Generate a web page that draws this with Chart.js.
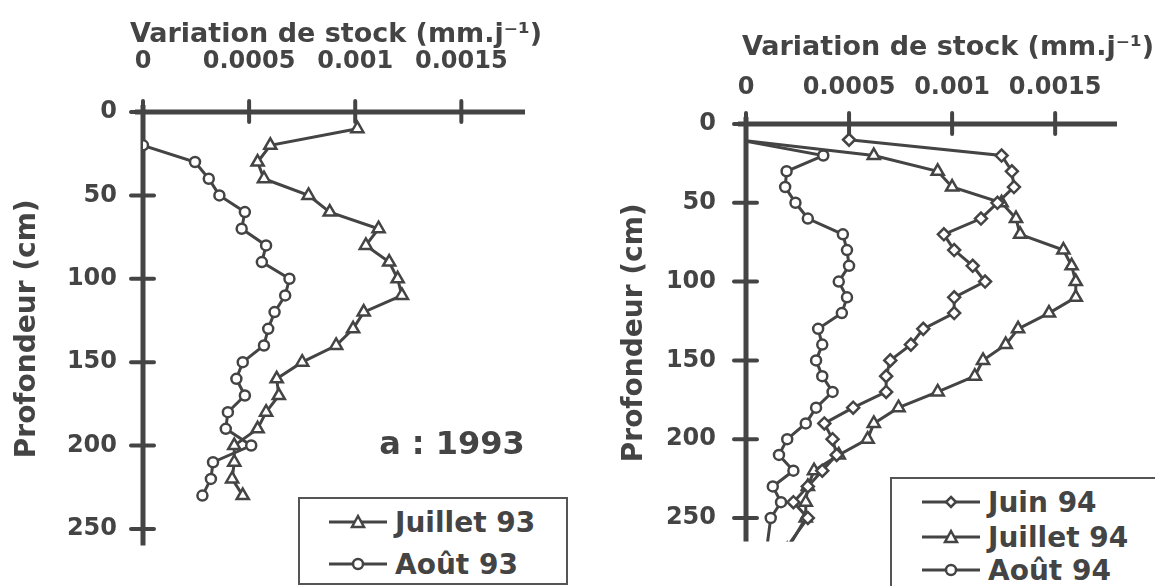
<!DOCTYPE html>
<html>
<head>
<meta charset="utf-8">
<script src="https://cdn.jsdelivr.net/npm/chart.js@4.4.1/dist/chart.umd.min.js"></script>
<style>
  html, body { margin: 0; padding: 0; background: #fff; }
  body { width: 1155px; height: 586px; position: relative; overflow: hidden; font-family: "DejaVu Sans", sans-serif; color: #444; }
  canvas { position: absolute; top: 0; }
  #leftCanvas { left: 0; }
  #rightCanvas { left: 580px; }
  .x-title { position: absolute; font-weight: bold; font-size: 27px; transform: translate(-50%, -50%); white-space: nowrap; }
  .legend-box { position: absolute; border: 2px solid #555; background: #fff; }
  .legend-row { position: absolute; height: 34px; display: flex; align-items: center; font-weight: bold; font-size: 28px; white-space: nowrap; }
  .legend-row svg { margin-right: 8px; }
  .year-tag { position: absolute; font-weight: bold; font-size: 32px; transform: translate(-50%, -50%); white-space: nowrap; }
</style>
</head>
<body>
<canvas id="leftCanvas" width="580" height="586"></canvas>
<canvas id="rightCanvas" width="575" height="586"></canvas>
<div class="x-title" id="xTitleLeft" style="left:336px; top:32px;"></div>
<div class="x-title" id="xTitleRight" style="left:948px; top:45px;"></div>
<div class="year-tag" style="left:452px; top:443px;">a : 1993</div>
<div class="legend-box" style="left:298px; top:497px; width:266px; height:84px;"></div>
<div class="legend-box" style="left:890px; top:477px; width:300px; height:140px;"></div>
<div id="legends"></div>
<script>
const INK = "#444";

// Axis text
const xTitle = "Variation de stock (mm.j\u207B\u00B9)";
const yTitle = "Profondeur (cm)";
const xTickValues = [0, 0.0005, 0.001, 0.0015];
const xTickLabels = ["0", "0.0005", "0.001", "0.0015"];
const yTickValues = [0, 50, 100, 150, 200, 250];

// 1993 panel
const depthsJuillet93 = [10, 20, 30, 40, 50, 60, 70, 80, 90, 100, 110, 120, 130, 140, 150, 160, 170, 180, 190, 200, 210, 220, 230];
const juillet93 = [0.00101, 0.0006, 0.00054, 0.00057, 0.00078, 0.00088, 0.00111, 0.00105, 0.00116, 0.0012, 0.00122, 0.00104,
  0.00099, 0.00091, 0.00075, 0.00063, 0.00064, 0.00058, 0.00054, 0.00043, 0.00043, 0.00042, 0.00047];
const depthsAout93 = [20, 30, 40, 50, 60, 70, 80, 90, 100, 110, 120, 130, 140, 150, 160, 170, 180, 190, 200, 210, 220, 230];
const aout93 = [0, 0.000245, 0.00031, 0.00036, 0.00048, 0.000465, 0.00058, 0.00056, 0.00069, 0.00067, 0.00062, 0.00059,
  0.00057, 0.00047, 0.00044, 0.00048, 0.0004, 0.00039, 0.00051, 0.00033, 0.00032, 0.00028];

// 1994 panel (last depth runs past the axis end, the line is cut there)
const depths94 = [10, 20, 30, 40, 50, 60, 70, 80, 90, 100, 110, 120, 130, 140, 150, 160, 170, 180, 190, 200, 210, 220, 230, 240, 250, 270];
const juin94 = [0.0005, 0.00124, 0.00129, 0.0013, 0.00122, 0.00114, 0.00096, 0.00101, 0.0011, 0.00116, 0.00101, 0.00101, 0.00086,
  0.0008, 0.0007, 0.00068, 0.00068, 0.00052, 0.00038, 0.00042, 0.00044, 0.00037, 0.0003, 0.00023, 0.0003, 0.00019];
const juillet94 = [-0.00004, 0.00062, 0.00093, 0.001, 0.00124, 0.00131, 0.00133, 0.00154, 0.00158, 0.0016, 0.0016, 0.00147, 0.00132,
  0.00126, 0.00115, 0.00111, 0.00093, 0.00074, 0.00062, 0.00059, 0.00045, 0.00033, 0.0003, 0.00029, 0.00029, 0.0002];
const aout94 = [-0.00004, 0.000375, 0.000197, 0.00019, 0.00024, 0.0003, 0.00047, 0.00049, 0.0005, 0.00045, 0.00049, 0.000465, 0.00035,
  0.00037, 0.00034, 0.00037, 0.00042, 0.00034, 0.00029, 0.0002, 0.00016, 0.00023, 0.00013, 0.00017, 0.00012, 0.0001];

const MARKER_RADIUS = { triangle: 7, circle: 5, rectRot: 6 };

Chart.defaults.font.family = '"DejaVu Sans", sans-serif';
Chart.defaults.color = INK;

function series(label, depths, values, style, extra) {
  return Object.assign({
    label,
    data: depths.map((d, i) => ({ x: values[i], y: d })),
    showLine: true,
    borderColor: INK,
    borderWidth: 3,
    pointStyle: style,
    pointRadius: MARKER_RADIUS[style],
    pointBorderWidth: 2.5,
    pointBorderColor: INK,
    pointBackgroundColor: "#fff",
  }, extra || {});
}

// axes drawn as crossing ticks, like the scanned figure
const crossAxes = {
  id: "crossAxes",
  beforeDatasetsDraw(chart) {
    const { ctx, chartArea: a, scales: { x, y } } = chart;
    ctx.save();
    ctx.strokeStyle = INK;
    ctx.lineWidth = 5;
    ctx.beginPath();
    ctx.moveTo(a.left - 8, a.top); ctx.lineTo(a.right, a.top);
    ctx.moveTo(a.left, a.top - 7); ctx.lineTo(a.left, a.bottom);
    ctx.stroke();
    ctx.lineWidth = 4;
    ctx.lineCap = "round";
    ctx.beginPath();
    x.ticks.forEach(t => { const px = x.getPixelForValue(t.value); ctx.moveTo(px, a.top - 11); ctx.lineTo(px, a.top + 10); });
    y.ticks.forEach(t => { const py = y.getPixelForValue(t.value); ctx.moveTo(a.left - 12, py); ctx.lineTo(a.left + 11, py); });
    ctx.stroke();
    ctx.restore();
  },
};

function makeChart(canvasId, datasets, o) {
  return new Chart(document.getElementById(canvasId), {
    type: "scatter",
    data: { datasets },
    plugins: [crossAxes],
    options: {
      responsive: false,
      animation: false,
      layout: { padding: o.padding },
      plugins: { legend: { display: false }, tooltip: { enabled: false } },
      scales: {
        x: {
          type: "linear", position: "top", min: 0, max: 0.0018,
          afterFit: s => { s.height = o.xHeight; },
          afterBuildTicks: s => { s.ticks = xTickValues.map(v => ({ value: v })); },
          ticks: { padding: o.xTickPad, color: INK, font: { size: 24, weight: "bold" }, maxRotation: 0,
            callback: (v, i) => xTickLabels[i] },
          grid: { display: false, drawTicks: false },
          border: { display: false },
          title: { display: false },
        },
        y: {
          type: "linear", position: "left", reverse: true, min: 0, max: o.yMax,
          afterFit: s => { s.width = o.yWidth; },
          afterBuildTicks: s => { s.ticks = yTickValues.map(v => ({ value: v })); },
          ticks: { padding: o.yTickPad, color: INK, font: { size: 24, weight: "bold" } },
          grid: { display: false, drawTicks: false },
          border: { display: false },
          title: { display: true, text: yTitle, color: INK, font: { size: 28, weight: "bold" }, padding: { top: o.yTitlePad, bottom: 0 } },
        },
      },
    },
  });
}

const leftSets = [
  series("Juillet 93", depthsJuillet93, juillet93, "triangle"),
  series("Août 93", depthsAout93, aout93, "circle"),
];
const rightSets = [
  series("Juin 94", depths94, juin94, "rectRot", { clip: 0 }),
  series("Juillet 94", depths94, juillet94, "triangle", { clip: 0 }),
  series("Août 94", depths94, aout94, "circle", { clip: 0 }),
];

makeChart("leftCanvas", leftSets, {
  padding: { left: 0, top: 0, right: 55, bottom: 29 },
  xHeight: 112, yWidth: 143, yMax: 260,
  xTickPad: 36, yTickPad: 26, yTitlePad: 11,
});
makeChart("rightCanvas", rightSets, {
  padding: { left: 34, top: 0, right: 38, bottom: 20 },
  xHeight: 124, yWidth: 132, yMax: 265,
  xTickPad: 22, yTickPad: 30, yTitlePad: 4,
});

// the x titles run wider than the axis, so they sit above the canvases as plain text
document.getElementById("xTitleLeft").textContent = xTitle;
document.getElementById("xTitleRight").textContent = xTitle;

// legends: line sample with marker, then the series name
function sampleSvg(style) {
  let m;
  if (style === "triangle") m = '<polygon points="29,4 35,15 23,15"/>';
  else if (style === "rectRot") m = '<polygon points="29,5 34,10 29,15 24,10"/>';
  else m = '<circle cx="29" cy="10" r="5"/>';
  return '<svg width="58" height="20" viewBox="0 0 58 20"><line x1="0" y1="10" x2="58" y2="10" stroke="' + INK +
    '" stroke-width="3"/><g fill="#fff" stroke="' + INK + '" stroke-width="2.5">' + m + '</g></svg>';
}

function drawLegend(sets, left, rowCenters) {
  const holder = document.getElementById("legends");
  sets.forEach((ds, i) => {
    const row = document.createElement("div");
    row.className = "legend-row";
    row.style.left = left + "px";
    row.style.top = (rowCenters[i] - 17) + "px";
    row.innerHTML = sampleSvg(ds.pointStyle) + "<span>" + ds.label + "</span>";
    holder.appendChild(row);
  });
}
drawLegend(leftSets, 329, [522, 564]);
drawLegend(rightSets, 922, [502, 537, 570]);
</script>
</body>
</html>
